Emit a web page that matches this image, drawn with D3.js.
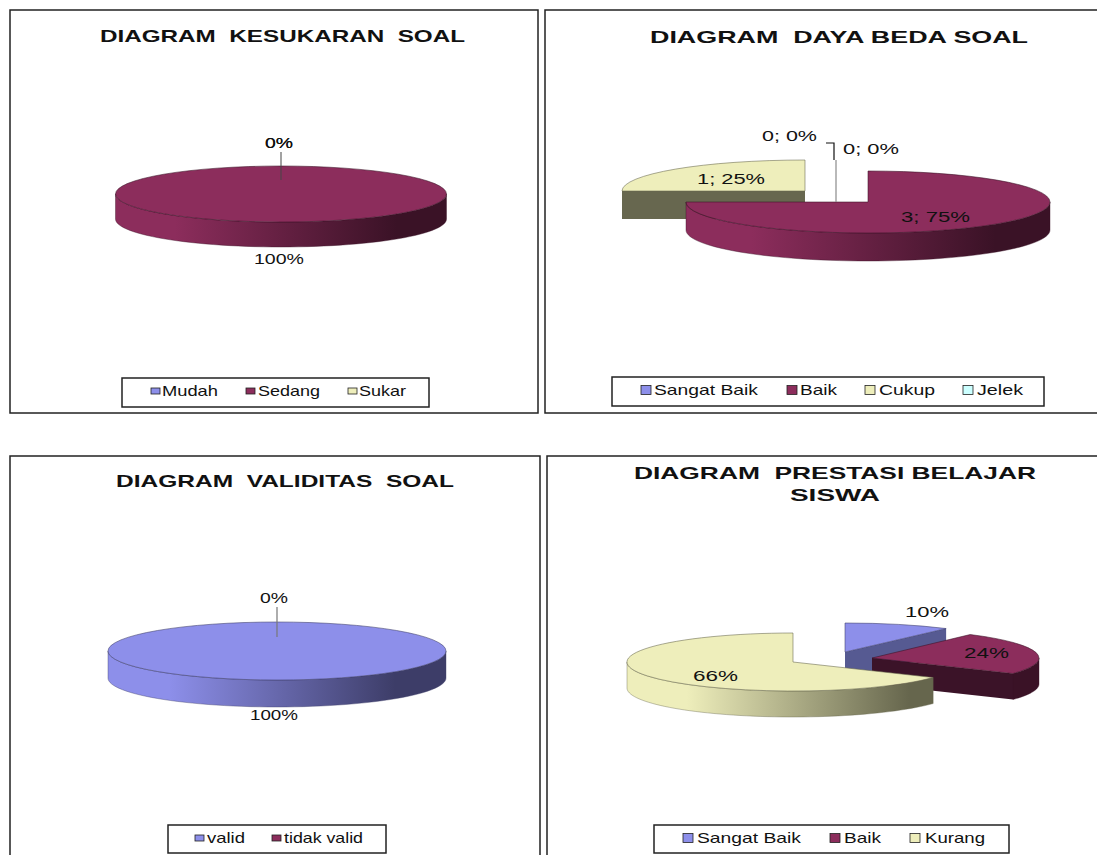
<!DOCTYPE html>
<html>
<head>
<meta charset="UTF-8">
<title>Diagram soal</title>
<script src="https://d3js.org/d3.v7.min.js"></script>
<style>
  html, body { margin: 0; padding: 0; background: #fff; overflow: hidden; }
  svg { display: block; }
  text { font-family: "Liberation Sans", Arial, sans-serif; fill: #111; }
</style>
</head>
<body>
<div id="my_dataviz"></div>
<script>
// data
var kesukaranCategories = ["Mudah", "Sedang", "Sukar"];
var kesukaranValues = [0, 100, 0];

var dayaBedaCategories = ["Sangat Baik", "Baik", "Cukup", "Jelek"];
var dayaBedaValues = [0, 3, 1, 0];

var validitasCategories = ["valid", "tidak valid"];
var validitasValues = [100, 0];

var prestasiCategories = ["Sangat Baik", "Baik", "Kurang"];
var prestasiValues = [10, 24, 66];

// palette, same order in every chart
var topColors = ["#8d8fea", "#8c2d5c", "#eeeebb", "#ccffff"];
var darkColors = ["#3d3d68", "#3a1226", "#66664d", "#5a7070"];
var cutColors = ["#565a92", "#3b1328", "#67674f", "#5a7070"];

// layout of each panel. box = [x0, x1, baseline] for a text
var panels = [
  {
    id: "kesukaran", categories: kesukaranCategories, values: kesukaranValues,
    colorIndex: [0, 1, 2], showValue: false, order: [1],
    frame: [10, 10, 528, 403],
    titles: [{ text: "DIAGRAM  KESUKARAN  SOAL", box: [100, 465, 42] }],
    centers: [[281, 194], [281, 194], [281, 194]], rx: [165.5, 165.5, 165.5], ry: 28, depth: 25,
    labels: { 0: [265, 293, 148], 1: [254, 304, 264], 2: [265, 293, 148] },
    leaders: [{ pts: [[281, 152], [281, 180]], color: "rgba(70,70,70,0.5)", w: 2 }],
    legend: { box: [122, 378, 307, 29], swatches: [151, 246, 348], swatchSize: [9, 6], text: [[162, 218], [258, 320], [359, 406]], baseline: 396 }
  },
  {
    id: "dayabeda", categories: dayaBedaCategories, values: dayaBedaValues,
    colorIndex: [0, 1, 2, 3], showValue: true, order: [2, 1],
    frame: [545, 10, 560, 403],
    titles: [{ text: "DIAGRAM  DAYA BEDA SOAL", box: [650, 1028, 43] }],
    centers: [[836, 197], [868, 202], [805, 191], [836, 197]], rx: [182, 182, 183, 182], ry: 31, depth: 28,
    labels: { 0: [762, 817, 141], 1: [901, 970, 222], 2: [697, 765, 184], 3: [843, 899, 154] },
    leaders: [
      { pts: [[836, 160], [836, 202]], color: "#8a8a8a", w: 1.2 },
      { pts: [[826, 143], [834, 143], [834, 160]], color: "#111", w: 1.2 }
    ],
    legend: { box: [612, 377, 432, 29], swatches: [641, 787, 865, 963], swatchSize: [10, 9], text: [[654, 758], [800, 837], [879, 935], [977, 1023]], baseline: 395 }
  },
  {
    id: "validitas", categories: validitasCategories, values: validitasValues,
    colorIndex: [0, 1], showValue: false, order: [0],
    frame: [10, 456, 530, 420],
    titles: [{ text: "DIAGRAM  VALIDITAS  SOAL", box: [116, 454, 487] }],
    centers: [[277, 651], [277, 651]], rx: [169, 169], ry: 29, depth: 27,
    labels: { 1: [260, 288, 603], 0: [250, 298, 720] },
    leaders: [{ pts: [[277, 607], [277, 637]], color: "#777", w: 1.2 }],
    legend: { box: [168, 825, 218, 28], swatches: [195, 272], swatchSize: [9, 6], text: [[207, 245], [284, 363]], baseline: 843 }
  },
  {
    id: "prestasi", categories: prestasiCategories, values: prestasiValues,
    colorIndex: [0, 1, 2], showValue: false, order: [0, 1, 2],
    frame: [547, 456, 560, 420],
    titles: [
      { text: "DIAGRAM  PRESTASI BELAJAR", box: [634, 1036, 479] },
      { text: "SISWA", box: [790, 880, 501] }
    ],
    centers: [[845, 652], [872, 658], [793, 662]], rx: [172, 167, 166], ry: 29, depth: 26,
    labels: { 0: [905, 949, 617], 1: [964, 1009, 658], 2: [693, 738, 681] },
    leaders: [],
    legend: { box: [654, 825, 355, 28], swatches: [683, 830, 910], swatchSize: [10, 9], text: [[697, 801], [844, 881], [925, 985]], baseline: 843 }
  }
];

var svg = d3.select("#my_dataviz").append("svg")
  .attr("width", 1097)
  .attr("height", 855);
var defs = svg.append("defs");

var pie = d3.pie().sort(null).value(function(d) { return d; });
var arc = d3.arc().innerRadius(0).outerRadius(1);
var lineGen = d3.line();
var percent = d3.format(".0%");

function fitText(g, text, box, size, weight) {
  return g.append("text")
    .attr("x", box[0])
    .attr("y", box[2])
    .attr("textLength", box[1] - box[0])
    .attr("lengthAdjust", "spacingAndGlyphs")
    .style("font-size", size + "px")
    .style("font-weight", weight || "normal")
    .style("white-space", "pre")
    .text(text);
}

panels.forEach(function(p) {
  var g = svg.append("g").attr("id", p.id);
  var total = d3.sum(p.values);
  var top = d3.scaleOrdinal().domain(p.categories).range(p.colorIndex.map(function(i) { return topColors[i]; }));
  var dark = d3.scaleOrdinal().domain(p.categories).range(p.colorIndex.map(function(i) { return darkColors[i]; }));
  var cut = d3.scaleOrdinal().domain(p.categories).range(p.colorIndex.map(function(i) { return cutColors[i]; }));

  g.append("rect")
    .attr("x", p.frame[0]).attr("y", p.frame[1])
    .attr("width", p.frame[2]).attr("height", p.frame[3])
    .attr("fill", "#fff").attr("stroke", "#222").attr("stroke-width", 1.5);

  p.titles.forEach(function(t) { fitText(g, t.text, t.box, 17, "bold"); });

  // slices, back to front
  var slices = pie(p.values);
  p.order.forEach(function(i) {
    var s = slices[i];
    var name = p.categories[i];
    var cx = p.centers[i][0], cy = p.centers[i][1], rx = p.rx[i];
    var t0 = s.startAngle, t1 = s.endAngle;
    var full = t1 - t0 >= 2 * Math.PI - 1e-6;
    var rim = function(t) { return [cx + rx * Math.sin(t), cy - p.ry * Math.cos(t)]; };

    function cutFace(t) {
      var e = rim(t);
      g.append("path")
        .attr("d", lineGen([[cx, cy], e, [e[0], e[1] + p.depth], [cx, cy + p.depth]]) + "Z")
        .attr("fill", cut(name));
    }
    if (!full && Math.sin(t0) < -1e-6) cutFace(t0);
    if (!full && Math.sin(t1) > 1e-6) cutFace(t1);

    // front rim with the left to right shading
    var a = Math.max(t0, Math.PI / 2), b = Math.min(t1, 3 * Math.PI / 2);
    if (b > a) {
      var gid = "side-" + p.id + "-" + i;
      var grad = defs.append("linearGradient").attr("id", gid)
        .attr("gradientUnits", "userSpaceOnUse")
        .attr("x1", cx - rx).attr("x2", cx + rx).attr("y1", 0).attr("y2", 0);
      grad.append("stop").attr("offset", 0.18).attr("stop-color", top(name));
      grad.append("stop").attr("offset", 0.85).attr("stop-color", dark(name));
      var angles = d3.range(61).map(function(k) { return a + (b - a) * k / 60; });
      var upper = angles.map(rim);
      var lower = upper.slice().reverse().map(function(q) { return [q[0], q[1] + p.depth]; });
      g.append("path")
        .attr("d", lineGen(upper.concat(lower)) + "Z")
        .attr("fill", "url(#" + gid + ")")
        .attr("stroke", dark(name)).attr("stroke-width", 0.4);
    }

    g.append("path")
      .attr("d", arc(s))
      .attr("transform", "translate(" + cx + "," + cy + ") scale(" + rx + "," + p.ry + ")")
      .attr("fill", top(name))
      .attr("stroke", dark(name))
      .attr("stroke-width", 0.7)
      .attr("stroke-opacity", 0.8)
      .attr("vector-effect", "non-scaling-stroke");
  });

  p.leaders.forEach(function(l) {
    g.append("path")
      .attr("d", lineGen(l.pts))
      .attr("fill", "none")
      .attr("stroke", l.color)
      .attr("stroke-width", l.w);
  });

  // data labels come from the values
  p.values.forEach(function(v, i) {
    if (!p.labels[i]) return;
    var txt = (p.showValue ? v + "; " : "") + percent(v / total);
    fitText(g, txt, p.labels[i], 15);
  });

  // legend
  var lg = p.legend;
  g.append("rect")
    .attr("x", lg.box[0]).attr("y", lg.box[1])
    .attr("width", lg.box[2]).attr("height", lg.box[3])
    .attr("fill", "#fff").attr("stroke", "#222").attr("stroke-width", 1.5);
  p.categories.forEach(function(c, i) {
    g.append("rect")
      .attr("x", lg.swatches[i]).attr("y", lg.baseline - 5 - lg.swatchSize[1] / 2)
      .attr("width", lg.swatchSize[0]).attr("height", lg.swatchSize[1])
      .attr("fill", top(c)).attr("stroke", "#222").attr("stroke-width", 0.8);
    fitText(g, c, [lg.text[i][0], lg.text[i][1], lg.baseline], 14.5);
  });
});
</script>
</body>
</html>
